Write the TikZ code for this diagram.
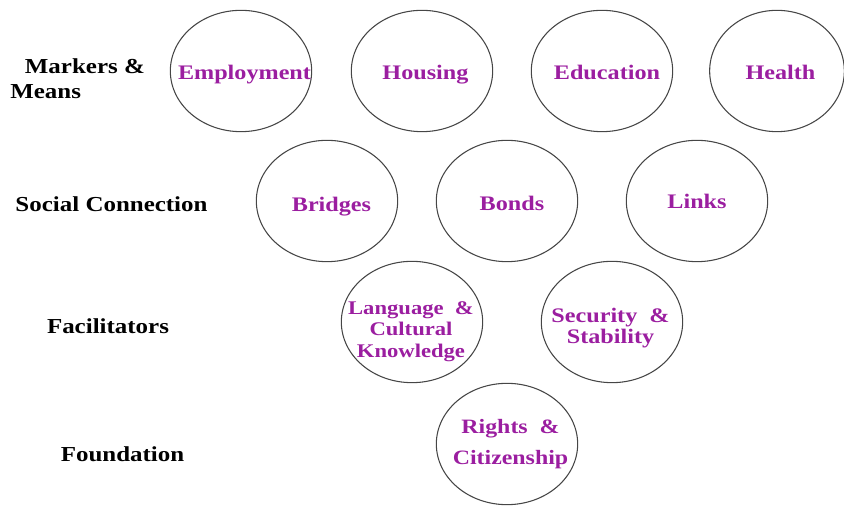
\documentclass[tikz,border=0pt]{standalone}
\usepackage{fontspec}
\setmainfont{Liberation Serif}
\newfontfamily\widefont[FakeStretch=1.17]{Liberation Serif}
\usetikzlibrary{shapes.geometric}
\definecolor{tagpurple}{RGB}{155,30,160}
\definecolor{rimgray}{RGB}{70,70,70}
\newcommand\tightlines{\lineskiplimit=-20pt\relax\lineskip=0pt\relax}

\begin{document}
\begin{tikzpicture}[x=0.75pt, y=-0.75pt,
		bubble/.style={ellipse, draw=rimgray, line width=0.8pt, minimum width=106pt, minimum height=91pt, inner sep=0pt},
		tag/.style={align=center, inner sep=0pt, anchor=base, text=tagpurple, font=\widefont\bfseries\fontsize{15.5}{15.5}\selectfont},
		level/.style={align=left, inner sep=0pt, font=\widefont\bfseries\fontsize{16}{19}\selectfont}]
			%%%%% START %%%%%
			
			\useasboundingbox (0, 0) rectangle (844, 506);
			
			% top row
			\node[bubble] (employment) at (241, 71) {};
			\node[bubble] (housing) at (422, 71) {};
			\node[bubble] (education) at (602, 71) {};
			\node[bubble, minimum width=101pt] (health) at (777, 71) {};
			\node[tag] (employmenttag) at (244.5, 79.5) {Employment};
			\node[tag] (housingtag) at (425.5, 79.5) {Housing};
			\node[tag] (educationtag) at (607, 79.5) {Education};
			\node[tag] (healthtag) at (780.5, 79.5) {Health};
			
			% second row
			\node[bubble] (bridges) at (327, 201) {};
			\node[bubble] (bonds) at (507, 201) {};
			\node[bubble] (links) at (697, 201) {};
			\node[tag] (bridgestag) at (331.5, 211.5) {Bridges};
			\node[tag] (bondstag) at (512, 210.5) {Bonds};
			\node[tag] (linkstag) at (697, 208.5) {Links};
			
			% third row
			\node[bubble] (language) at (412, 322) {};
			\node[bubble] (security) at (612, 322) {};
			\node[tag, anchor=center, font=\widefont\bfseries\fontsize{14.5}{16}\selectfont] (languagetag) at (411, 331.5) {Language \ \&\\Cultural\\Knowledge};
			\node[tag, anchor=center, font=\widefont\bfseries\fontsize{15.5}{13.5}\selectfont] (securitytag) at (610.5, 328) {\tightlines Security \ \&\\Stability};
			
			% bottom
			\node[bubble] (rights) at (507, 444) {};
			\node[tag, anchor=center, font=\widefont\bfseries\fontsize{15.3}{23.3}\selectfont] (rightstag) at (510.5, 444) {Rights \ \&\\Citizenship};
			
			% row names
			\node[level, anchor=west] (markers) at (10, 79) {\hspace*{11pt}Markers \&\\Means};
			\node[level] (social) at (111.5, 204) {Social Connection};
			\node[level] (facilitators) at (108, 326) {Facilitators};
			\node[level] (foundation) at (122.5, 454) {Foundation};
			
			%%%%% END %%%%%
		\end{tikzpicture}
\end{document}
